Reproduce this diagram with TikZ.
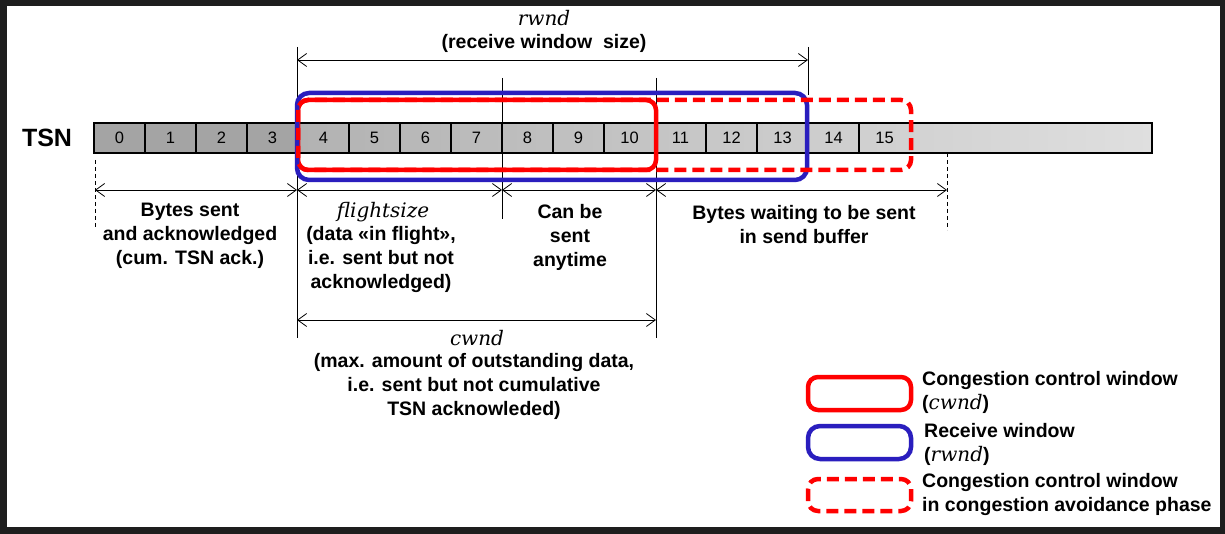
\documentclass[tikz,border=0pt]{standalone}
\usepackage{fontspec}
\setmainfont{Liberation Sans}
\newfontfamily\varfont{DejaVu Serif}
\usetikzlibrary{arrows.meta}
\definecolor{framecol}{HTML}{1E1E1E}
\definecolor{darkcell}{HTML}{A4A4A4}
\definecolor{cellleft}{HTML}{B2B2B2}
\definecolor{cellright}{HTML}{DFDFDF}
\definecolor{winblue}{HTML}{2A1EBE}
\definecolor{winred}{HTML}{FF0000}
\newcommand{\vname}[1]{{\varfont\mdseries\itshape\fontsize{20}{24}\selectfont #1}}
\tikzset{
  lbl/.style={font=\fontsize{19.5}{24}\selectfont\bfseries, align=center, inner sep=0pt},
  mth/.style={font=\varfont\itshape\fontsize{20}{24}\selectfont, inner sep=0pt},
  num/.style={font=\fontsize{16.5}{18}\selectfont, inner sep=0pt},
  dimline/.style={draw=black, line width=0.8pt,
    {Straight Barb[length=9pt,width=13pt]}-{Straight Barb[length=9pt,width=13pt]}},
  guide/.style={draw=black, line width=0.8pt},
  guidedash/.style={draw=black, line width=0.8pt, dash pattern=on 4pt off 3pt},
  cwndbox/.style={draw=winred, line width=4.5pt, rounded corners=10pt},
  rwndbox/.style={draw=winblue, line width=4.5pt, rounded corners=12pt},
  cabox/.style={draw=winred, line width=4.5pt, rounded corners=10pt, dash pattern=on 12pt off 6pt},
}
\begin{document}
\begin{tikzpicture}[x=1pt,y=-1pt]
\useasboundingbox (0,0) rectangle (1225,534);
\fill[framecol] (0,0) rectangle (1225,534);
\fill[white] (7,6) rectangle (1220,527);

% guide lines
\coordinate (g1a) at (297,47);  \coordinate (g1b) at (297,338);
\coordinate (g2a) at (808,47);  \coordinate (g2b) at (808,95);
\coordinate (g3a) at (502,78);  \coordinate (g3b) at (502,219);
\coordinate (g4a) at (656,78);  \coordinate (g4b) at (656,338);
\coordinate (g5a) at (95,160);  \coordinate (g5b) at (95,228);
\coordinate (g6a) at (947,153); \coordinate (g6b) at (947,230);
\draw[guide] (g1a) -- (g1b);
\draw[guide] (g2a) -- (g2b);
\draw[guide] (g3a) -- (g3b);
\draw[guide] (g4a) -- (g4b);
\draw[guidedash] (g5a) -- (g5b);
\draw[guidedash] (g6a) -- (g6b);

% TSN bar
\node[font=\fontsize{25}{28}\selectfont\bfseries, inner sep=0pt] (tsn) at (47,138) {TSN};
\fill[darkcell] (94,123) rectangle (298,153);
\shade[left color=cellleft, right color=cellright] (298,123) rectangle (1152,153);
\foreach \i in {1,...,15} \draw[line width=1.6pt] ({94+51*\i},123) -- ({94+51*\i},153);
\draw[line width=2pt] (94,123) rectangle (1152,153);
\foreach \i in {0,...,15} \node[num] (c\i) at ({119.5+51*\i},138) {\i};

% windows
\draw[cwndbox] (298,100) rectangle (656,170);
\draw[rwndbox] (297,93) rectangle (807,180);
\draw[cabox] (298,100) rectangle (911,170);
\draw[cwndbox] (320,170) -- (646,170);

% dimension lines
\coordinate (r1) at (297,60);  \coordinate (r2) at (808,60);
\coordinate (b0) at (95,190);  \coordinate (b1) at (297,190);
\coordinate (b2) at (502,190); \coordinate (b3) at (656,190);
\coordinate (b4) at (947,190);
\coordinate (w1) at (297,320); \coordinate (w2) at (656,320);
\draw[dimline] (r1) -- (r2);
\draw[dimline] (b0) -- (b1);
\draw[dimline] (b1) -- (b2);
\draw[dimline] (b2) -- (b3);
\draw[dimline] (b3) -- (b4);
\draw[dimline] (w1) -- (w2);

% labels
\node[mth] (rwndl) at (544,18) {rwnd};
\node[lbl] (rwndt) at (544,43) {(receive window\ \ size)};
\node[lbl] (acked) at (190,236) {Bytes sent\\and acknowledged\\(cum. TSN ack.)};
\node[mth] (fsl) at (383,212) {flightsize};
\node[lbl] (fst) at (381,260) {(data «in flight»,\\i.e. sent but not\\acknowledged)};
\node[lbl] (canb) at (570,237) {Can be\\sent\\anytime};
\node[lbl] (wait) at (804,225) {Bytes waiting to be sent\\in send buffer};
\node[mth] (cwl) at (477,338) {cwnd};
\node[lbl] (cwt) at (474,386) {(max. amount of outstanding data,\\i.e. sent but not cumulative\\TSN acknowleded)};

% legend
\draw[cwndbox] (808,377) rectangle (911,410) node[coordinate] (lg1) {};
\draw[rwndbox] (808,426) rectangle (911,459) node[coordinate] (lg2) {};
\draw[cabox] (808,479) rectangle (911,511) node[coordinate] (lg3) {};
\node[lbl, align=left, anchor=west] (lt1) at (922,392) {Congestion control window\\(\vname{cwnd})};
\node[lbl, align=left, anchor=west] (lt2) at (924,444) {Receive window\\(\vname{rwnd})};
\node[lbl, align=left, anchor=west] (lt3) at (922,494) {Congestion control window\\in congestion avoidance phase};
\end{tikzpicture}
\end{document}
